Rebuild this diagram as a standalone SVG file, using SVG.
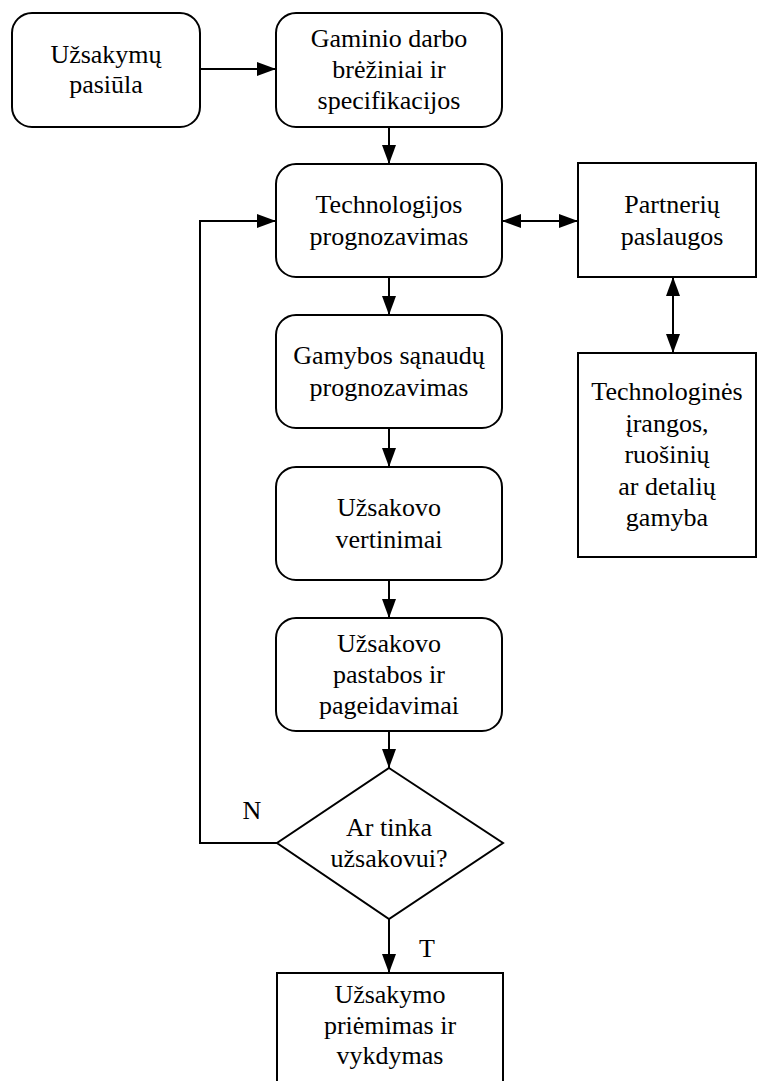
<svg xmlns="http://www.w3.org/2000/svg" width="757" height="1081" viewBox="0 0 757 1081">
<style>
.b{fill:#fff;stroke:#000;stroke-width:2}
.c{fill:none;stroke:#000;stroke-width:2}
text{font-family:"Liberation Serif","Times New Roman",serif;font-size:26px;fill:#000;text-anchor:middle}
</style>
<defs>
<marker id="ah" markerUnits="userSpaceOnUse" markerWidth="20" markerHeight="14" refX="19" refY="7" orient="auto-start-reverse">
<path d="M0,0 L19,7 L0,14 z" fill="#000"/>
</marker>
</defs>
<rect width="757" height="1081" fill="#fff"/>
<g id="n1"><rect class="b" x="12" y="13" width="188" height="114" rx="20"/><text x="106" y="63">Užsakymų</text><text x="106" y="93">pasiūla</text></g>
<g id="n2"><rect class="b" x="276" y="13" width="226" height="114" rx="20"/><text x="389" y="47">Gaminio darbo</text><text x="389" y="78">brėžiniai ir</text><text x="389" y="109">specifikacijos</text></g>
<g id="n3"><rect class="b" x="276" y="164" width="226" height="113" rx="20"/><text x="389" y="213">Technologijos</text><text x="389" y="245">prognozavimas</text></g>
<g id="n4"><rect class="b" x="276" y="315" width="226" height="113" rx="20"/><text x="389" y="364">Gamybos sąnaudų</text><text x="389" y="396">prognozavimas</text></g>
<g id="n5"><rect class="b" x="276" y="467" width="226" height="113" rx="20"/><text x="389" y="516">Užsakovo</text><text x="389" y="548">vertinimai</text></g>
<g id="n6"><rect class="b" x="276" y="618" width="226" height="113" rx="20"/><text x="389" y="652">Užsakovo</text><text x="389" y="683">pastabos ir</text><text x="389" y="714">pageidavimai</text></g>
<g id="n7"><polygon class="b" points="389,768 503,843 389,919 277,843"/><text x="389" y="836">Ar tinka</text><text x="389" y="867">užsakovui?</text></g>
<g id="n8"><rect class="b" x="277" y="973" width="226" height="120"/><text x="390" y="1003">Užsakymo</text><text x="390" y="1034">priėmimas ir</text><text x="390" y="1064">vykdymas</text></g>
<g id="n9"><rect class="b" x="578" y="163" width="178" height="114"/><text x="672" y="213">Partnerių</text><text x="672" y="245">paslaugos</text></g>
<g id="n10"><rect class="b" x="578" y="353" width="178" height="204"/><text x="667" y="400">Technologinės</text><text x="667" y="432">įrangos,</text><text x="667" y="463">ruošinių</text><text x="667" y="495">ar detalių</text><text x="667" y="526">gamyba</text></g>
<g id="connectors">
<line class="c" x1="200" y1="69" x2="276" y2="69" marker-end="url(#ah)"/>
<line class="c" x1="389" y1="127" x2="389" y2="164" marker-end="url(#ah)"/>
<line class="c" x1="502" y1="221" x2="578" y2="221" marker-start="url(#ah)" marker-end="url(#ah)"/>
<line class="c" x1="673" y1="277" x2="673" y2="353" marker-start="url(#ah)" marker-end="url(#ah)"/>
<line class="c" x1="389" y1="277" x2="389" y2="315" marker-end="url(#ah)"/>
<line class="c" x1="389" y1="428" x2="389" y2="467" marker-end="url(#ah)"/>
<line class="c" x1="389" y1="580" x2="389" y2="618" marker-end="url(#ah)"/>
<line class="c" x1="389" y1="731" x2="389" y2="768" marker-end="url(#ah)"/>
<path class="c" d="M277,843 H200 V221 H276" marker-end="url(#ah)"/>
<line class="c" x1="389" y1="919" x2="389" y2="973" marker-end="url(#ah)"/>
<text x="252" y="819">N</text>
<text x="427" y="957">T</text>
</g>
</svg>
